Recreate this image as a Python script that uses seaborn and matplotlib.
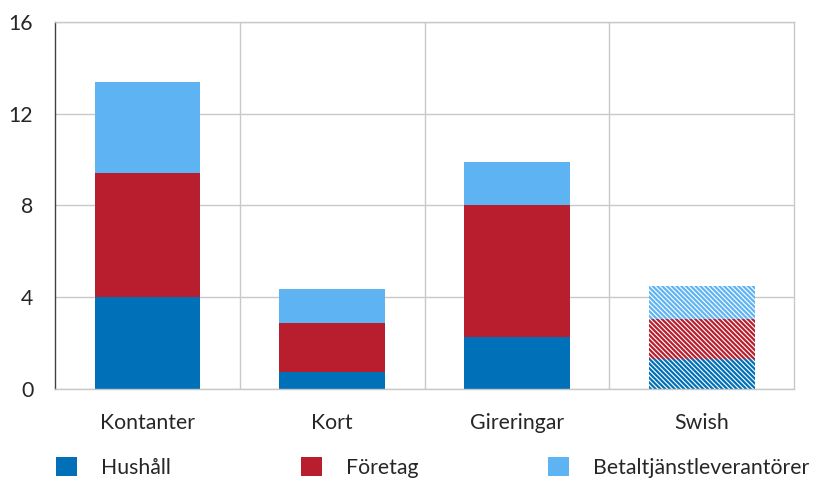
import numpy as np
import pandas as pd
import matplotlib
matplotlib.use("Agg")
import matplotlib.pyplot as plt
from matplotlib.patches import Patch
import seaborn as sns

categories = ["Kontanter", "Kort", "Gireringar", "Swish"]
hushall = [4.0, 0.75, 2.27, 1.3]
foretag = [5.4, 2.13, 5.75, 1.75]
betalt = [4.0, 1.48, 1.88, 1.42]
series_names = ["Hushåll", "Företag", "Betaltjänstleverantörer"]
colors = ["#0070B8", "#B81E2D", "#5EB4F3"]

sns.set_style("white")
plt.rcParams["font.family"] = ["Lato", "DejaVu Sans"]
plt.rcParams["hatch.linewidth"] = 1.6
fs = 15.3

df = pd.DataFrame({"cat": categories, "h": hushall, "f": foretag, "b": betalt})
df["c1"] = df["h"]
df["c2"] = df["h"] + df["f"]
df["c3"] = df["c2"] + df["b"]

fig, ax = plt.subplots(figsize=(8.18, 4.79), dpi=100)
fig.subplots_adjust(left=0.067, right=0.971, top=0.954, bottom=0.188)

# draw the stack from the top down so the lower parts cover the upper ones
for col, c in zip(["c3", "c2", "c1"], colors[::-1]):
    sns.barplot(data=df, x="cat", y=col, color=c, width=0.57, ax=ax,
                saturation=1, linewidth=0, errorbar=None)

# Swish bars hatched
for p in ax.patches:
    if abs(p.get_x() + p.get_width() / 2 - 3) < 0.01:
        fc = p.get_facecolor()
        p.set_facecolor("white")
        p.set_edgecolor(fc)
        p.set_hatch("\\" * 7)
        p.set_linewidth(0)

ax.set_xlim(-0.5, 3.5)
ax.set_ylim(0, 16)
ax.set_yticks([0, 4, 8, 12, 16])
ax.set_xticks([0.5, 1.5, 2.5], minor=True)
ax.set_axisbelow(True)
ax.grid(axis="y", which="major", color="#c8c8c8", lw=1)
ax.grid(axis="x", which="minor", color="#c8c8c8", lw=1)
ax.set_xlabel("")
ax.set_ylabel("")
ax.tick_params(axis="x", which="both", length=0, labelsize=fs, pad=17)
ax.tick_params(axis="y", direction="in", length=6, width=1, color="#404040",
               labelsize=fs, pad=15.5)
for s in ["top", "right", "bottom"]:
    ax.spines[s].set_color("#c8c8c8")
ax.spines["left"].set_color("#404040")
for s in ax.spines.values():
    s.set_linewidth(1)

handles = [Patch(facecolor=c, edgecolor="none") for c in colors]
fig.legend(handles, series_names, loc="upper left", bbox_to_anchor=(56 / 818, 1 - 457 / 479),
           ncol=3, frameon=False, fontsize=fs, handlelength=1.0, handleheight=1.0,
           handletextpad=1.13, columnspacing=6.1, borderpad=0, borderaxespad=0)

fig.savefig("out.png", dpi=100)
